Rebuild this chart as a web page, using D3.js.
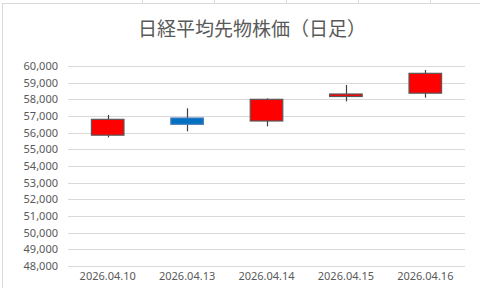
<!DOCTYPE html>
<html>
<head>
<meta charset="utf-8">
<script src="https://cdn.jsdelivr.net/npm/d3@7"></script>
<style>
  body { margin: 0; background: #fff; }
  text { font-family: "Noto Sans CJK JP", "Noto Sans", sans-serif; }
</style>
</head>
<body>
<div id="chart"></div>
<script>
const width = 480;
const height = 288;

// data
const dates = ["2026.04.10", "2026.04.13", "2026.04.14", "2026.04.15", "2026.04.16"];
const open  = [55850, 56880, 56700, 58170, 58370];
const high  = [57060, 57460, 58060, 58860, 59760];
const low   = [55720, 56080, 56380, 57880, 58100];
const close = [56800, 56500, 58000, 58320, 59560];
const yTicks = [48000, 49000, 50000, 51000, 52000, 53000, 54000, 55000, 56000, 57000, 58000, 59000, 60000];
const title = "日経平均先物株価（日足）";

const data = dates.map((d, i) => ({date: d, o: open[i], h: high[i], l: low[i], c: close[i]}));

const svg = d3.select("#chart")
    .append("svg")
    .attr("width", width)
    .attr("height", height);

// spreadsheet cells peeking around the chart frame
svg.append("g")
    .selectAll("line")
    .data([142.5, 214.5, 286.5, 358.5, 430.5])
    .join("line")
    .attr("x1", d => d).attr("x2", d => d)
    .attr("y1", 0).attr("y2", 3)
    .attr("stroke", "#d9d9d9");

svg.append("rect")
    .attr("x", 2.5).attr("y", 3.5)
    .attr("width", width + 10).attr("height", height + 10)
    .attr("fill", "#fff")
    .attr("stroke", "#d9d9d9");

const x = d3.scaleBand()
    .domain(dates)
    .range([68, 465]);

const y = d3.scaleLinear()
    .domain([48000, 60000])
    .range([266, 66]);

// gridlines
svg.append("g")
    .selectAll("line")
    .data(yTicks)
    .join("line")
    .attr("x1", 68).attr("x2", 465)
    .attr("y1", d => Math.round(y(d)) + 0.5)
    .attr("y2", d => Math.round(y(d)) + 0.5)
    .attr("stroke", "#d9d9d9");

// y axis labels
const yAxis = svg.append("g")
    .attr("transform", "translate(58,0)")
    .call(d3.axisLeft(y).tickValues(yTicks).tickSize(0).tickPadding(0).tickFormat(d3.format(",")));
yAxis.select(".domain").remove();
yAxis.selectAll("text")
    .attr("fill", "#595959")
    .style("font-size", "11px")
    .style("font-family", "'Noto Sans', sans-serif");

// x axis labels
const xAxis = svg.append("g")
    .attr("transform", "translate(0,272)")
    .call(d3.axisBottom(x).tickSize(0).tickPadding(0));
xAxis.select(".domain").remove();
xAxis.selectAll("text")
    .attr("fill", "#595959")
    .style("font-size", "11px")
    .style("font-family", "'Noto Sans', sans-serif");

// candles
const bodyW = x.bandwidth() * 0.41;
const candles = svg.append("g")
    .selectAll("g")
    .data(data)
    .join("g");

candles.append("line")
    .attr("x1", d => Math.round(x(d.date) + x.bandwidth() / 2) + 0.5)
    .attr("x2", d => Math.round(x(d.date) + x.bandwidth() / 2) + 0.5)
    .attr("y1", d => y(d.h))
    .attr("y2", d => y(d.l))
    .attr("stroke", "#404040")
    .attr("stroke-width", 1.2);

candles.append("rect")
    .attr("x", d => x(d.date) + x.bandwidth() / 2 - bodyW / 2)
    .attr("y", d => y(Math.max(d.o, d.c)))
    .attr("width", bodyW)
    .attr("height", d => Math.max(1, y(Math.min(d.o, d.c)) - y(Math.max(d.o, d.c))))
    .attr("fill", d => d.c >= d.o ? "#ff0000" : "#0070c0")
    .attr("stroke", d => d.c >= d.o ? "#595959" : "#4a7fc0")
    .attr("stroke-width", 1.2);

// title
svg.append("text")
    .attr("x", 252)
    .attr("y", 36)
    .attr("text-anchor", "middle")
    .attr("fill", "#595959")
    .style("font-size", "19px")
    .text(title);
</script>
</body>
</html>
